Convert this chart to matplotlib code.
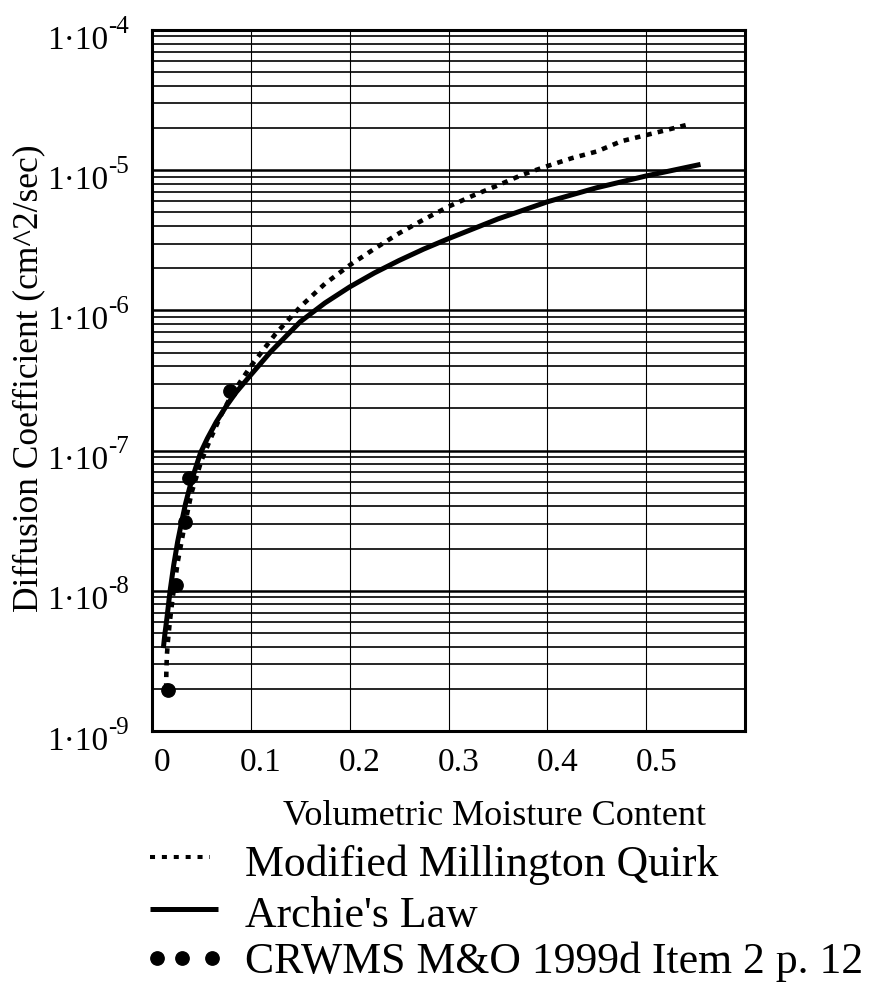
import matplotlib
matplotlib.use('Agg')
import matplotlib.pyplot as plt
from matplotlib.ticker import LogLocator, NullFormatter, FixedLocator
from matplotlib.lines import Line2D
import matplotlib.transforms as mtransforms

# ---------------- data ----------------
archie_theta = [0.0115, 0.013, 0.015, 0.0183, 0.022, 0.026, 0.030, 0.034, 0.038, 0.042,
                0.049, 0.056, 0.065, 0.075, 0.085, 0.0997, 0.12, 0.15, 0.175, 0.2,
                0.225, 0.25, 0.275, 0.3, 0.35, 0.4, 0.45, 0.5, 0.555]
archie_D = [3.9e-9, 4.9e-9, 6.3e-9, 1.0e-8, 1.53e-8, 2.25e-8, 3.1e-8, 4.2e-8, 5.4e-8, 6.75e-8,
            9.6e-8, 1.22e-7, 1.6e-7, 2.07e-7, 2.6e-7, 3.45e-7, 5.06e-7, 8.3e-7, 1.13e-6, 1.47e-6,
            1.85e-6, 2.27e-6, 2.74e-6, 3.25e-6, 4.49e-6, 5.95e-6, 7.5e-6, 9.1e-6, 1.1e-5]

mmq_theta = [0.0143, 0.0145, 0.015, 0.016, 0.018, 0.021, 0.026, 0.032, 0.04, 0.05, 0.06,
             0.07, 0.08, 0.09, 0.1, 0.125, 0.15, 0.175, 0.2, 0.225, 0.25, 0.275, 0.3,
             0.325, 0.35, 0.375, 0.4, 0.425, 0.45, 0.475, 0.5, 0.52, 0.544]
mmq_D = [2.0e-9, 2.6e-9, 3.4e-9, 4.3e-9, 6.0e-9, 9.0e-9, 1.6e-8, 2.7e-8, 5.0e-8, 8.5e-8,
         1.25e-7, 1.8e-7, 2.45e-7, 3.15e-7, 4.0e-7, 6.8e-7, 1.06e-6, 1.55e-6, 2.1e-6,
         2.75e-6, 3.55e-6, 4.45e-6, 5.5e-6, 6.6e-6, 7.8e-6, 9.3e-6, 1.07e-5, 1.22e-5,
         1.36e-5, 1.61e-5, 1.78e-5, 1.93e-5, 2.13e-5]

crwms_theta = [0.0166, 0.0245, 0.0338, 0.037, 0.0790]
crwms_D = [1.95e-9, 1.10e-8, 3.1e-8, 6.35e-8, 2.68e-7]

x_ticks = [0.0, 0.1, 0.2, 0.3, 0.4, 0.5]
x_tick_labels = ["0", "0.1", "0.2", "0.3", "0.4", "0.5"]
y_exponents = [-4, -5, -6, -7, -8, -9]

x_label = "Volumetric Moisture Content"
y_label = "Diffusion Coefficient (cm^2/sec)"
legend_labels = ["Modified Millington Quirk", "Archie's Law",
                 "CRWMS M&O 1999d Item 2 p. 12"]

# ---------------- figure ----------------
W, H = 881, 985
FONT = 'Liberation Serif'
plt.rcParams['font.family'] = [FONT, 'DejaVu Serif']

fig = plt.figure(figsize=(W / 100, H / 100), dpi=100)
fig.patch.set_facecolor('white')

L, R, T, B = 152, 745, 30, 731
ax = fig.add_axes([L / W, 1 - B / H, (R - L) / W, (B - T) / H])
ax.set_yscale('log')
ax.set_xlim(0, 0.6)
ax.set_ylim(1e-9, 1e-4)

# grid
ax.yaxis.set_major_locator(LogLocator(base=10, numticks=20))
ax.yaxis.set_minor_locator(LogLocator(base=10, subs=[2, 3, 4, 5, 6, 7, 8, 9], numticks=20))
ax.yaxis.set_major_formatter(NullFormatter())
ax.yaxis.set_minor_formatter(NullFormatter())
ax.set_xticks(x_ticks, x_tick_labels)
ax.xaxis.set_minor_locator(FixedLocator([]))
ax.grid(which='major', axis='y', color='black', lw=1.8, zorder=0)
ax.grid(which='minor', axis='y', color='black', lw=1.2, zorder=0)
ax.grid(which='major', axis='x', color='black', lw=0.8, zorder=0)
ax.set_axisbelow(True)
ax.tick_params(which='both', length=0)
ax.tick_params(axis='x', pad=12, labelsize=24)
for lab in ax.get_xticklabels():
    lab.set_fontfamily(FONT)
    lab.set_transform(lab.get_transform() + mtransforms.Affine2D().translate(10, 0))
for sp in ax.spines.values():
    sp.set_linewidth(2.2)
    sp.set_color('black')

# curves
ax.plot(archie_theta, archie_D, color='black', lw=3.6, solid_capstyle='butt',
        solid_joinstyle='round', zorder=3)
ax.plot(mmq_theta, mmq_D, color='black', lw=3.3, linestyle=(0, (1.2, 1.35)),
        dash_capstyle='butt', zorder=3)
ax.plot(crwms_theta, crwms_D, linestyle='none', marker='o', markersize=9.6,
        color='black', zorder=4)

# y tick labels (1·10 with superscript exponent)
ytrans = ax.get_yaxis_transform()
for e in y_exponents:
    v = 10.0 ** e
    t_main = mtransforms.offset_copy(ytrans, fig=fig, x=-(L - 108), y=-18.5, units='dots')
    ax.text(0, v, "1·10", transform=t_main, ha='right', va='baseline',
            fontsize=24, family=FONT, clip_on=False)
    t_sup = mtransforms.offset_copy(ytrans, fig=fig, x=-(L - 108), y=-2.5, units='dots')
    ax.text(0, v, "-" + str(abs(e)), transform=t_sup, ha='left', va='baseline',
            fontsize=18, family=FONT, clip_on=False)

# axis labels
def fx(px):
    return px / W

def fy(py):
    return 1 - py / H

fig.text(fx(29), fy(378), y_label, rotation=90, ha='center', va='center',
         fontsize=25.5, family=FONT)
fig.text(fx(495), fy(825), x_label, ha='center', va='baseline',
         fontsize=26, family=FONT)

# legend
fig.add_artist(Line2D([fx(150), fx(210)], [fy(857), fy(857)], color='black', lw=2.9,
                      linestyle=(0, (1.25, 1.7)), dash_capstyle='butt'))
fig.add_artist(Line2D([fx(150), fx(218)], [fy(909), fy(909)], color='black', lw=3.6,
                      solid_capstyle='butt'))
fig.add_artist(Line2D([fx(157), fx(182), fx(212)], [fy(958)] * 3, color='black',
                      linestyle='none', marker='o', markersize=9.6))
for lab, base in zip(legend_labels, [876, 927, 973]):
    fig.text(fx(245), fy(base), lab, ha='left', va='baseline', fontsize=31.5, family=FONT)

fig.savefig('out.png', dpi=100, facecolor='white')
